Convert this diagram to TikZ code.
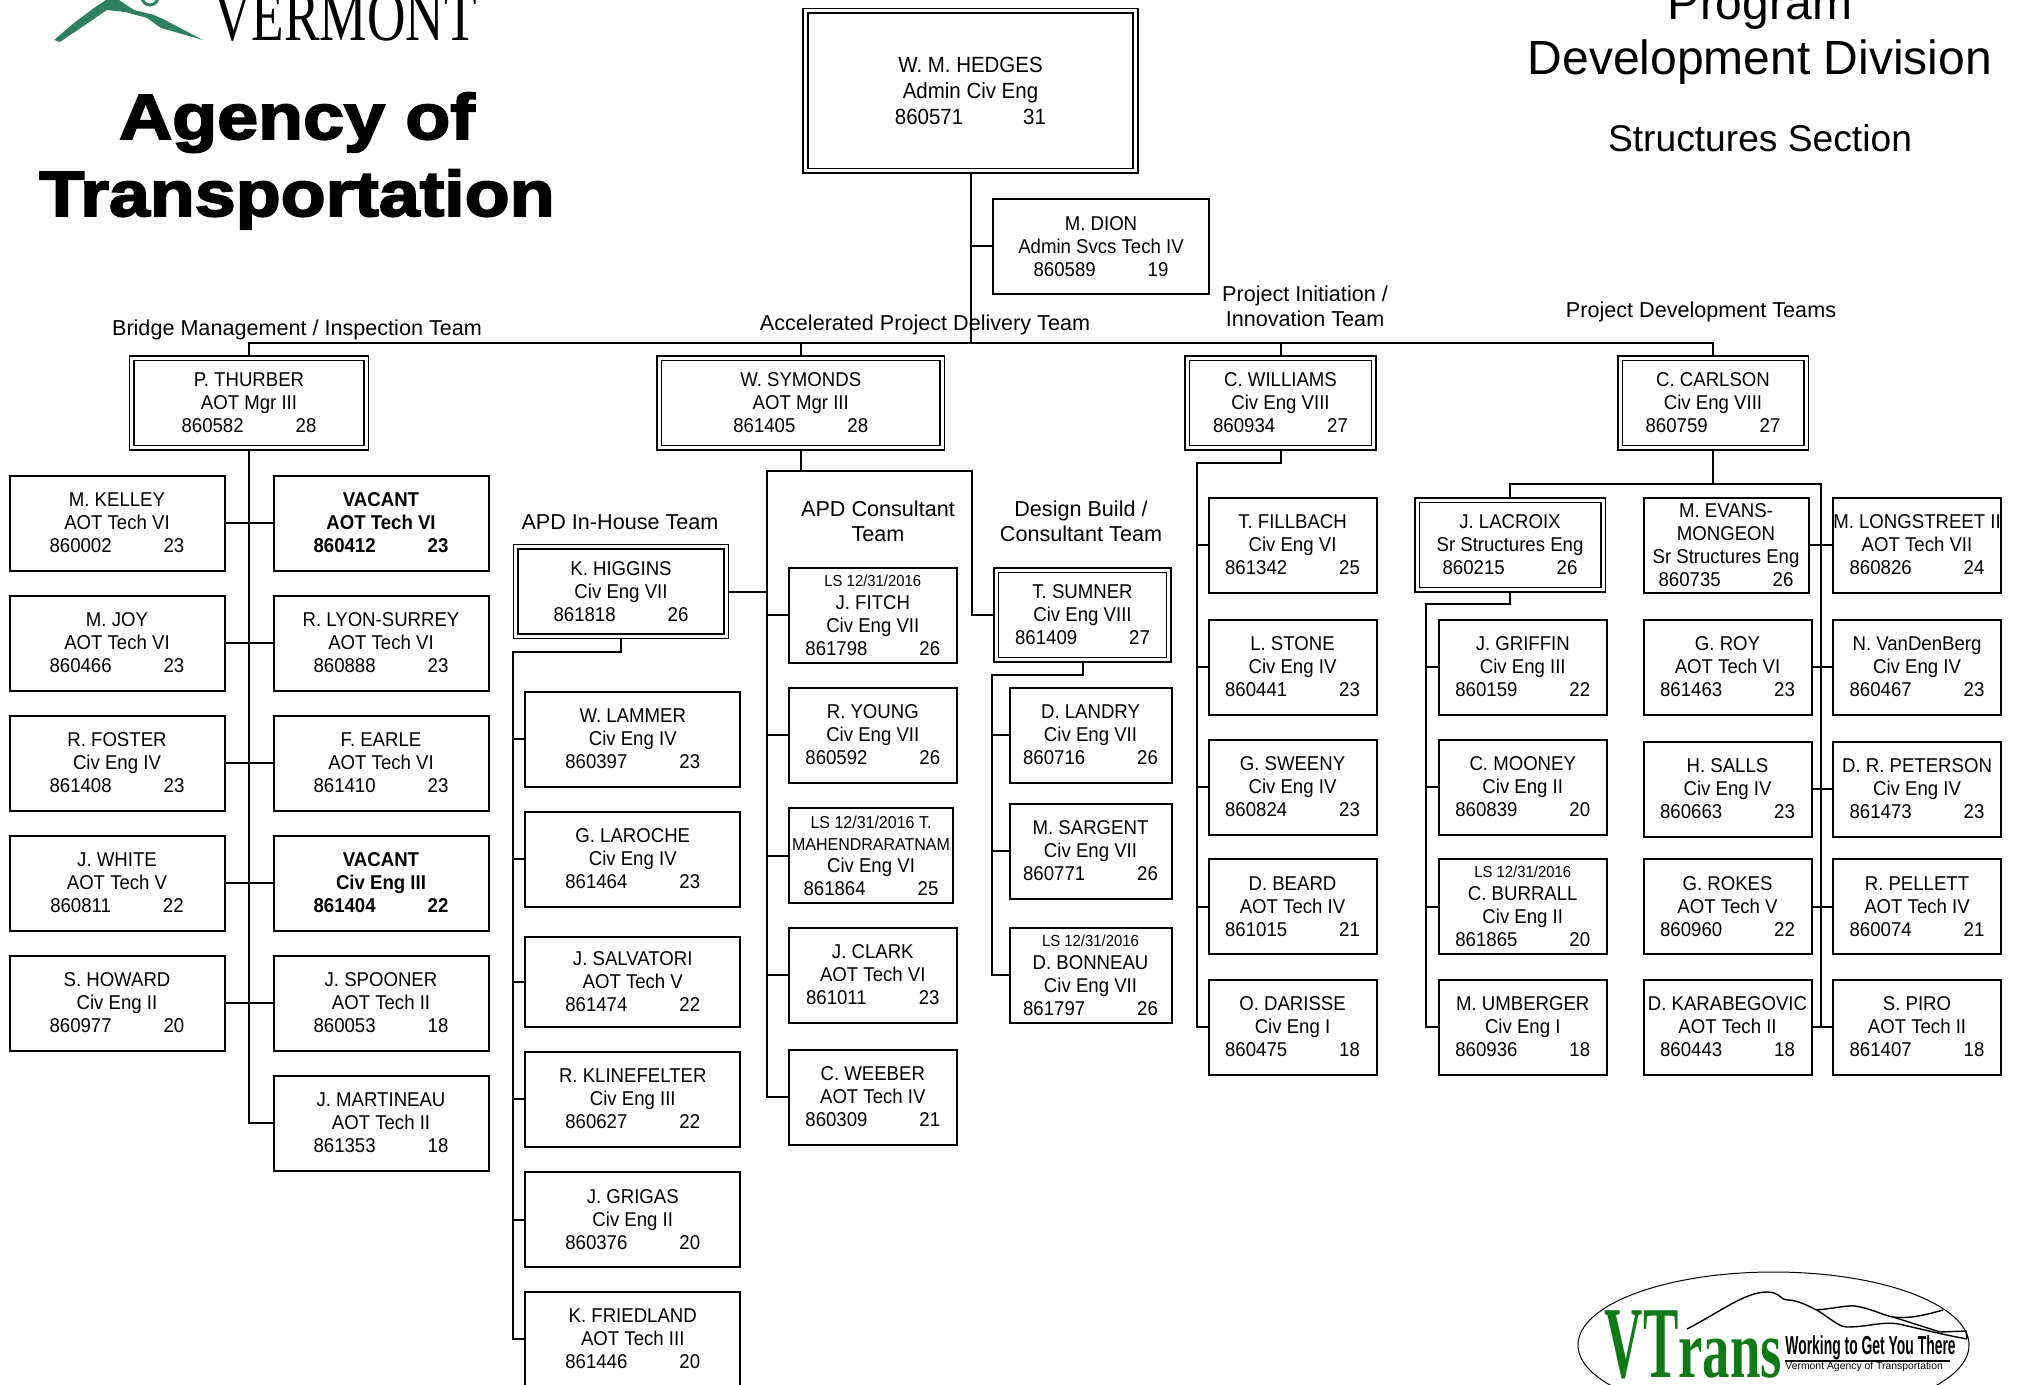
\documentclass[tikz,border=0pt]{standalone}
\usepackage{fontspec}
\setmainfont{Liberation Sans}
\newfontfamily\stafffont[FakeStretch=0.93]{Liberation Sans}
\newfontfamily\agencyfont[BoldFeatures={FakeBold=3,FakeStretch=1.15}]{Liberation Sans}
\newfontfamily\vermontfont[FakeStretch=0.74]{Liberation Serif}
\newfontfamily\vtransfont[BoldFeatures={FakeStretch=0.67}]{Liberation Serif}
\newfontfamily\vtransbig[BoldFeatures={FakeStretch=0.52}]{Liberation Serif}
\newfontfamily\mottofont[BoldFeatures={FakeStretch=0.535}]{Liberation Sans}
\definecolor{vtgreen}{RGB}{46,128,96}
\definecolor{vtrans}{RGB}{17,122,23}
\newcommand{\posn}[4]{#1\\#2\\#3\hspace{26pt}#4}
\newcommand{\lsdate}[1]{{\fontsize{8}{10.5}\selectfont #1}}
\newcommand{\lslong}[1]{{\fontsize{8.6}{10}\selectfont #1}}
\tikzset{
    staff/.style={draw, line width=1pt, align=center, inner sep=0pt, outer sep=0pt,
        font=\stafffont\fontsize{10}{11.5}\selectfont, minimum height=47.5pt},
    widebox/.style={staff, minimum width=107.5pt},
    thinbox/.style={staff, minimum width=84pt},
    vacant/.style={font=\stafffont\bfseries\fontsize{10}{11.5}\selectfont},
    lead/.style={staff, double, line width=0.85pt, double distance=1.5pt, outer sep=1.6pt, minimum height=44.75pt},
    link/.style={line width=1pt},
    teamlabel/.style={align=center, inner sep=0pt, font=\fontsize{10.8}{12.3}\selectfont},
}

\begin{document}
\begin{tikzpicture}[x=0.5pt, y=-0.5pt]
    \useasboundingbox (0, 0) rectangle (2018, 1385);
    \clip (0, 0) rectangle (2018, 1385);
    % \draw[help lines, gray] (0, 0) grid[step=100] (2018, 1385);

    \fill[vtgreen] (54, 40) -- (74, 23) -- (94, 8) -- (109, -2) -- (116, -2) -- (134, 10) -- (154, 15)
        -- (163, 19) -- (203, 40) -- (161, 28) -- (147, 18) -- (125, 12) -- (107, 10) -- (85, 25) -- (60, 42) -- cycle;
    \draw[vtgreen, line width=1.5pt] (150, -3) circle (8);
    \node[inner sep=0pt, anchor=base, font=\vermontfont\fontsize{36}{36}\selectfont] (vermont) at (345, 41) {VERMONT};
    \node[align=center, inner sep=0pt, anchor=base, font=\agencyfont\bfseries\fontsize{32}{37.5}\selectfont] (agency) at (297, 139) {Agency of};
    \node[align=center, inner sep=0pt, anchor=base, font=\agencyfont\bfseries\fontsize{32}{37.5}\selectfont] (transport) at (297, 216) {Transportation};

    \node[inner sep=0pt, anchor=base, font=\fontsize{24}{24}\selectfont] (program) at (1760, 20) {Program};
    \node[inner sep=0pt, anchor=base, font=\fontsize{24}{24}\selectfont] (division) at (1760, 75) {Development Division};
    \node[inner sep=0pt, anchor=base, font=\fontsize{18.6}{18.6}\selectfont] (section) at (1760, 151.5) {Structures Section};

    \node[lead, minimum width=165pt, minimum height=80pt, font=\stafffont\fontsize{11}{12.9}\selectfont] (hedges) at (970.5, 91)
        {W. M. HEDGES\\Admin Civ Eng\\860571\hspace{30pt}31};
    \node[staff, minimum width=108pt] (dion) at (1101, 246.5) {\posn{M. DION}{Admin Svcs Tech IV}{860589}{19}};

    \node[teamlabel] (bridgeteam) at (297, 329.5) {Bridge Management / Inspection Team};
    \node[teamlabel] (apdteam) at (925, 324.5) {Accelerated Project Delivery Team};
    \node[teamlabel] (initteam) at (1305, 306) {Project Initiation /\\Innovation Team};
    \node[teamlabel] (devteam) at (1701, 311.5) {Project Development Teams};
    \node[teamlabel] (houseteam) at (620, 522) {APD In-House Team};
    \node[teamlabel] (consteam) at (878, 521) {APD Consultant\\Team};
    \node[teamlabel] (buildteam) at (1081, 521) {Design Build /\\Consultant Team};

    \node[lead, minimum width=117.25pt] (thurber) at (249, 403) {\posn{P. THURBER}{AOT Mgr III}{860582}{28}};
    \node[lead, minimum width=141.5pt] (symonds) at (800.75, 403) {\posn{W. SYMONDS}{AOT Mgr III}{861405}{28}};
    \node[lead, minimum width=93.25pt] (williams) at (1280.5, 403) {\posn{C. WILLIAMS}{Civ Eng VIII}{860934}{27}};
    \node[lead, minimum width=93pt] (carlson) at (1713, 403) {\posn{C. CARLSON}{Civ Eng VIII}{860759}{27}};

    \node[widebox] (kelley) at (117, 523) {\posn{M. KELLEY}{AOT Tech VI}{860002}{23}};
    \node[widebox] (joy) at (117, 643) {\posn{M. JOY}{AOT Tech VI}{860466}{23}};
    \node[widebox] (foster) at (117, 763) {\posn{R. FOSTER}{Civ Eng IV}{861408}{23}};
    \node[widebox] (white) at (117, 883) {\posn{J. WHITE}{AOT Tech V}{860811}{22}};
    \node[widebox] (howard) at (117, 1003) {\posn{S. HOWARD}{Civ Eng II}{860977}{20}};

    \node[widebox, vacant] (vacanta) at (381, 523) {\posn{VACANT}{AOT Tech VI}{860412}{23}};
    \node[widebox] (lyon) at (381, 643) {\posn{R. LYON-SURREY}{AOT Tech VI}{860888}{23}};
    \node[widebox] (earle) at (381, 763) {\posn{F. EARLE}{AOT Tech VI}{861410}{23}};
    \node[widebox, vacant] (vacantb) at (381, 883) {\posn{VACANT}{Civ Eng III}{861404}{22}};
    \node[widebox] (spooner) at (381, 1003) {\posn{J. SPOONER}{AOT Tech II}{860053}{18}};
    \node[widebox] (martineau) at (381, 1123) {\posn{J. MARTINEAU}{AOT Tech II}{861353}{18}};

    \node[lead, minimum width=105.25pt] (higgins) at (621, 591.5) {\posn{K. HIGGINS}{Civ Eng VII}{861818}{26}};
    \node[widebox] (lammer) at (632.75, 739) {\posn{W. LAMMER}{Civ Eng IV}{860397}{23}};
    \node[widebox] (laroche) at (632.75, 859) {\posn{G. LAROCHE}{Civ Eng IV}{861464}{23}};
    \node[widebox, minimum height=45pt] (salvatori) at (632.75, 982) {\posn{J. SALVATORI}{AOT Tech V}{861474}{22}};
    \node[widebox] (klinefelter) at (632.75, 1099) {\posn{R. KLINEFELTER}{Civ Eng III}{860627}{22}};
    \node[widebox] (grigas) at (632.75, 1219.5) {\posn{J. GRIGAS}{Civ Eng II}{860376}{20}};
    \node[widebox] (friedland) at (632.75, 1339) {\posn{K. FRIEDLAND}{AOT Tech III}{861446}{20}};

    \node[thinbox] (fitch) at (872.8, 615) {\lsdate{LS 12/31/2016}\\J. FITCH\\Civ Eng VII\\861798\hspace{26pt}26};
    \node[thinbox] (young) at (872.8, 735) {\posn{R. YOUNG}{Civ Eng VII}{860592}{26}};
    \node[staff, minimum width=82pt] (mahendra) at (871, 855.5) {\lslong{LS 12/31/2016 T.}\\[-0.5pt]\lslong{MAHENDRARATNAM}\\[-0.5pt]Civ Eng VI\\861864\hspace{26pt}25};
    \node[thinbox] (clark) at (872.8, 975) {\posn{J. CLARK}{AOT Tech VI}{861011}{23}};
    \node[thinbox] (weeber) at (872.8, 1097) {\posn{C. WEEBER}{AOT Tech IV}{860309}{21}};

    \node[lead, minimum width=86.25pt] (sumner) at (1082.5, 615) {\posn{T. SUMNER}{Civ Eng VIII}{861409}{27}};
    \node[staff, minimum width=81pt] (landry) at (1090.5, 735) {\posn{D. LANDRY}{Civ Eng VII}{860716}{26}};
    \node[staff, minimum width=81pt] (sargent) at (1090.5, 851) {\posn{M. SARGENT}{Civ Eng VII}{860771}{26}};
    \node[staff, minimum width=81pt] (bonneau) at (1090.5, 975) {\lsdate{LS 12/31/2016}\\D. BONNEAU\\Civ Eng VII\\861797\hspace{26pt}26};

    \node[thinbox] (fillbach) at (1292.5, 545) {\posn{T. FILLBACH}{Civ Eng VI}{861342}{25}};
    \node[thinbox] (stone) at (1292.5, 667) {\posn{L. STONE}{Civ Eng IV}{860441}{23}};
    \node[thinbox] (sweeny) at (1292.5, 787) {\posn{G. SWEENY}{Civ Eng IV}{860824}{23}};
    \node[thinbox] (beard) at (1292.5, 906.5) {\posn{D. BEARD}{AOT Tech IV}{861015}{21}};
    \node[thinbox] (darisse) at (1292.5, 1027) {\posn{O. DARISSE}{Civ Eng I}{860475}{18}};

    \node[lead, minimum width=93pt] (lacroix) at (1510, 545) {\posn{J. LACROIX}{Sr Structures Eng}{860215}{26}};
    \node[thinbox] (griffin) at (1522.75, 667) {\posn{J. GRIFFIN}{Civ Eng III}{860159}{22}};
    \node[thinbox] (mooney) at (1522.75, 787) {\posn{C. MOONEY}{Civ Eng II}{860839}{20}};
    \node[thinbox] (burrall) at (1522.75, 906.5) {\lsdate{LS 12/31/2016}\\C. BURRALL\\Civ Eng II\\861865\hspace{26pt}20};
    \node[thinbox] (umberger) at (1522.75, 1027) {\posn{M. UMBERGER}{Civ Eng I}{860936}{18}};

    \node[staff, minimum width=82.5pt] (evans) at (1726, 545) {M. EVANS-\\MONGEON\\Sr Structures Eng\\860735\hspace{26pt}26};
    \node[thinbox] (roy) at (1727.5, 667) {\posn{G. ROY}{AOT Tech VI}{861463}{23}};
    \node[thinbox] (salls) at (1727.5, 789) {\posn{H. SALLS}{Civ Eng IV}{860663}{23}};
    \node[thinbox] (rokes) at (1727.5, 906.5) {\posn{G. ROKES}{AOT Tech V}{860960}{22}};
    \node[thinbox] (karabegovic) at (1727.5, 1027) {\posn{D. KARABEGOVIC}{AOT Tech II}{860443}{18}};

    \node[thinbox] (longstreet) at (1917, 545) {\posn{M. LONGSTREET II}{AOT Tech VII}{860826}{24}};
    \node[thinbox] (vandenberg) at (1917, 667) {\posn{N. VanDenBerg}{Civ Eng IV}{860467}{23}};
    \node[thinbox] (peterson) at (1917, 789) {\posn{D. R. PETERSON}{Civ Eng IV}{861473}{23}};
    \node[thinbox] (pellett) at (1917, 906.5) {\posn{R. PELLETT}{AOT Tech IV}{860074}{21}};
    \node[thinbox] (piro) at (1917, 1027) {\posn{S. PIRO}{AOT Tech II}{861407}{18}};

    \coordinate (buswest) at (249, 343);
    \coordinate (buseast) at (1713, 343);
    \coordinate (apdwest) at (766.5, 471);
    \coordinate (apdeast) at (972, 471);
    \coordinate (housebend) at (513, 652);
    \coordinate (buildbend) at (992, 675);
    \coordinate (initbend) at (1197, 463);
    \coordinate (devwest) at (1510, 484);
    \coordinate (deveast) at (1821, 484);
    \coordinate (structbend) at (1426, 604);

    \draw[link] (thurber.north) -- (buswest) -- (buseast) -- (carlson.north);
    \draw[link] (hedges.south) -- (hedges.south |- buswest);
    \draw[link] (dion.west) -- (dion.west -| hedges.south);
    \draw[link] (symonds.north) -- (symonds.north |- buswest);
    \draw[link] (williams.north) -- (williams.north |- buswest);

    \draw[link] (thurber.south) |- (martineau.west);
    \draw[link] (kelley.east) -- (vacanta.west);
    \draw[link] (joy.east) -- (lyon.west);
    \draw[link] (foster.east) -- (earle.west);
    \draw[link] (white.east) -- (vacantb.west);
    \draw[link] (howard.east) -- (spooner.west);

    \draw[link] (symonds.south) -- (symonds.south |- apdwest);
    \draw[link] (weeber.west) -| (apdwest) -- (apdeast) |- (sumner.west);
    \draw[link] (higgins.east) -- (higgins.east -| apdwest);
    \draw[link] (fitch.west) -- (fitch.west -| apdwest);
    \draw[link] (young.west) -- (young.west -| apdwest);
    \draw[link] (mahendra.west) -- (mahendra.west -| apdwest);
    \draw[link] (clark.west) -- (clark.west -| apdwest);

    \draw[link] (higgins.south) |- (housebend) |- (friedland.west);
    \draw[link] (lammer.west) -- (lammer.west -| housebend);
    \draw[link] (laroche.west) -- (laroche.west -| housebend);
    \draw[link] (salvatori.west) -- (salvatori.west -| housebend);
    \draw[link] (klinefelter.west) -- (klinefelter.west -| housebend);
    \draw[link] (grigas.west) -- (grigas.west -| housebend);

    \draw[link] (sumner.south) |- (buildbend) |- (bonneau.west);
    \draw[link] (landry.west) -- (landry.west -| buildbend);
    \draw[link] (sargent.west) -- (sargent.west -| buildbend);

    \draw[link] (williams.south) |- (initbend) |- (darisse.west);
    \draw[link] (fillbach.west) -- (fillbach.west -| initbend);
    \draw[link] (stone.west) -- (stone.west -| initbend);
    \draw[link] (sweeny.west) -- (sweeny.west -| initbend);
    \draw[link] (beard.west) -- (beard.west -| initbend);

    \draw[link] (carlson.south) -- (carlson.south |- devwest);
    \draw[link] (lacroix.north) -- (devwest) -- (deveast) |- (karabegovic.east);
    \draw[link] (evans.east) -- (longstreet.west);
    \draw[link] (roy.east) -- (vandenberg.west);
    \draw[link] (salls.east) -- (peterson.west);
    \draw[link] (rokes.east) -- (pellett.west);
    \draw[link] (karabegovic.east) -- (piro.west);

    \draw[link] (lacroix.south) |- (structbend) |- (umberger.west);
    \draw[link] (griffin.west) -- (griffin.west -| structbend);
    \draw[link] (mooney.west) -- (mooney.west -| structbend);
    \draw[link] (burrall.west) -- (burrall.west -| structbend);

    \draw[line width=0.5pt] (1773.5, 1345) ellipse (195.5 and 73);
    \draw[line width=0.7pt] (1687, 1329) .. controls (1720, 1312) and (1745, 1292) .. (1767, 1292)
        .. controls (1780, 1292) and (1780, 1300) .. (1788, 1300) .. controls (1800, 1300) and (1815, 1310) .. (1817, 1310)
        .. controls (1835, 1322) and (1840, 1327) .. (1847, 1327) .. controls (1870, 1327) and (1885, 1320) .. (1903, 1325)
        .. controls (1925, 1330) and (1945, 1335) .. (1967, 1339);
    \draw[line width=0.7pt] (1817, 1310) .. controls (1835, 1308) and (1850, 1305) .. (1855, 1306)
        .. controls (1870, 1308) and (1885, 1316) .. (1893, 1317) .. controls (1910, 1319) and (1925, 1315) .. (1943, 1310);
    \draw[line width=0.7pt] (1893, 1317) -- (1940, 1332) -- (1966, 1331) -- (1967, 1339);
    \node[inner sep=0pt, anchor=base west, text=vtrans, font=\vtransbig\bfseries\fontsize{51}{51}\selectfont] (vtv) at (1604, 1377) {V};
    \node[inner sep=0pt, anchor=base west, text=vtrans, font=\vtransbig\bfseries\fontsize{51}{51}\selectfont] (vtt) at (1643, 1377) {T};
    \node[inner sep=0pt, anchor=base west, text=vtrans, font=\vtransfont\bfseries\fontsize{41}{41}\selectfont] (vtr) at (1678, 1377) {rans};
    \node[inner sep=0pt, anchor=base west, font=\mottofont\bfseries\fontsize{13}{13}\selectfont] (motto) at (1785, 1354) {Working to Get You There};
    \draw[line width=0.6pt] (motto.south west) ++(0, 1) -- ++(165, 0);
    \node[inner sep=0pt, anchor=base west, font=\fontsize{5.2}{5.2}\selectfont] (mottosub) at (1785, 1369) {Vermont Agency of Transportation};
\end{tikzpicture}
\end{document}
